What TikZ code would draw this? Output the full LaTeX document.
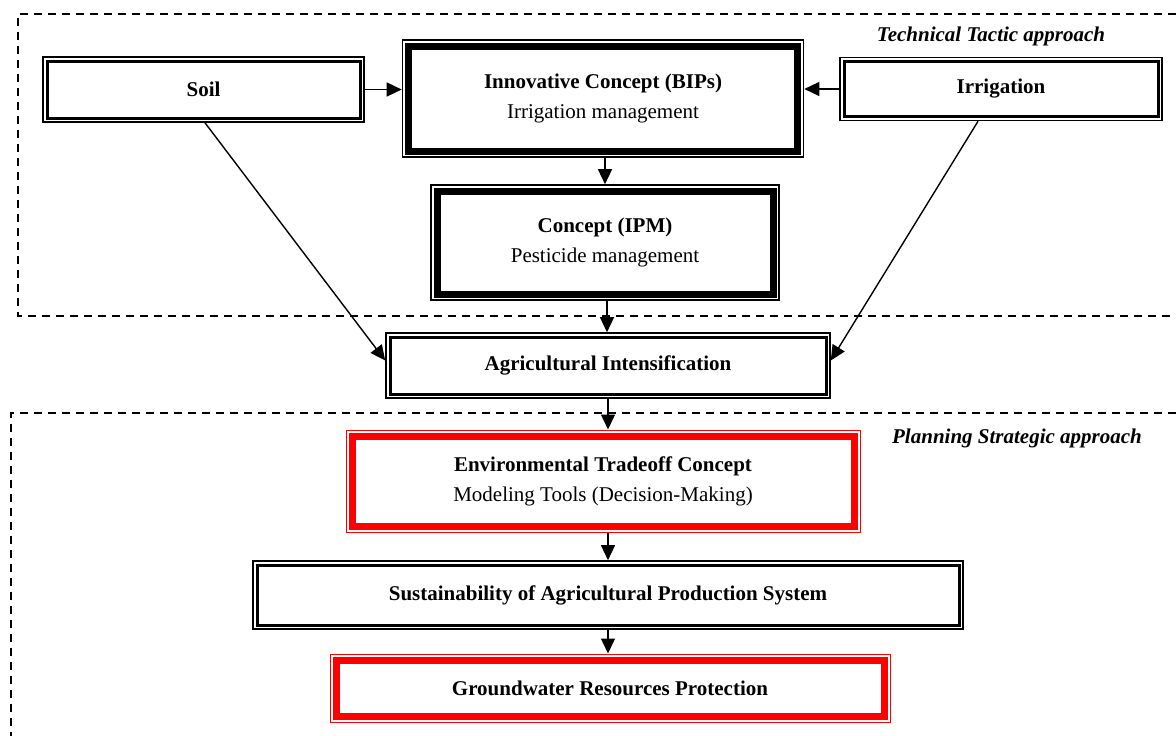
\documentclass[tikz,border=0pt]{standalone}
\usepackage{fontspec}
\setmainfont{Liberation Serif}
\usetikzlibrary{arrows.meta}
\definecolor{boxred}{RGB}{255,0,0}
\tikzset{
  inner/.style 2 args={path picture={\draw[line width=#1,#2]
     ([shift={(2.5pt+#1/2,-2.5pt-#1/2)}]path picture bounding box.north west) rectangle
     ([shift={(-2.5pt-#1/2,2.5pt+#1/2)}]path picture bounding box.south east);}},
  basebox/.style={draw, line width=1.6pt, fill=white, inner sep=0pt, align=center,
     font=\fontsize{21}{30}\selectfont},
  thinbox/.style={basebox, inner={3pt}{black}},
  thickbox/.style={basebox, inner={7pt}{black}},
  redbox/.style={basebox, draw=boxred, line width=1pt, inner={7pt}{boxred}},
  arr/.style={line width=1.4pt, -{Triangle[length=15pt,width=14pt]}},
  zone/.style={line width=1.4pt, dash pattern=on 8pt off 6pt},
  lbl/.style={font=\fontsize{21}{25}\selectfont\bfseries\itshape}
}
\begin{document}
\begin{tikzpicture}[x=1pt,y=-1pt]
\useasboundingbox (0,0) rectangle (1176,736);
\draw[zone] (1190,14) -- (18,14) -- (18,316) -- (1190,316);
\draw[zone] (1190,413) -- (11,413) -- (11,745);
\node[lbl] (tt) at (991,36) {Technical Tactic approach};
\node[lbl] (ps) at (1017,438) {Planning Strategic approach};

\node[thinbox, minimum width=321pt, minimum height=65pt] (soil) at (203.5,89.5) {\textbf{Soil}};
\node[thickbox, minimum width=401pt, minimum height=117pt] (bip) at (603,98.5) {\textbf{Innovative Concept (BIPs)}\\Irrigation management};
\node[thinbox, minimum width=322pt, minimum height=63pt] (irr) at (1001,89) {\textbf{Irrigation}};
\node[thickbox, minimum width=348pt, minimum height=115pt] (ipm) at (605,242.5) {\textbf{Concept (IPM)}\\Pesticide management};
\node[thinbox, minimum width=444pt, minimum height=65pt] (ai) at (608,365.5) {\textbf{Agricultural Intensification}};
\node[redbox, minimum width=514pt, minimum height=102pt] (env) at (603,481) {\textbf{Environmental Tradeoff Concept}\\Modeling Tools (Decision-Making)};
\node[thinbox, minimum width=710pt, minimum height=68pt] (sus) at (608,595) {\textbf{Sustainability of Agricultural Production System}};
\node[redbox, minimum width=560pt, minimum height=68pt] (gw) at (610,688) {\textbf{Groundwater Resources Protection}};

\draw[arr] (soil.east) -- (bip.west |- soil.east);
\draw[arr] (irr.west) -- (bip.east |- irr.west);
\draw[arr] (bip.south -| ipm.north) -- (ipm.north);
\draw[arr] ([xshift=2pt]ipm.south) -- ([xshift=2pt]ipm.south |- ai.north);
\draw[arr] ([xshift=1.5pt]soil.south) -- ([yshift=5pt]ai.west);
\draw[arr] ([xshift=-23pt]irr.south) -- ([yshift=5pt]ai.east);
\draw[arr] (ai.south) -- (ai.south |- env.north);
\draw[arr] (env.south -| ai.south) -- (ai.south |- sus.north);
\draw[arr] (sus.south) -- (sus.south |- gw.north);
\end{tikzpicture}
\end{document}
